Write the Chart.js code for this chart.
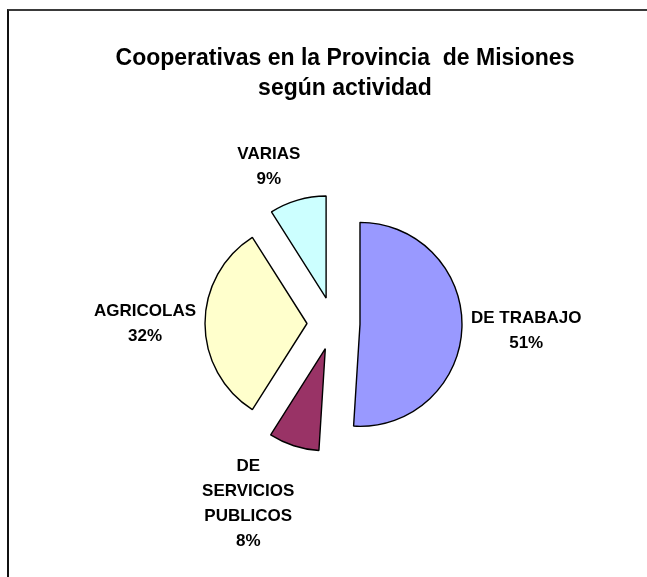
<!DOCTYPE html>
<html lang="es">
<head>
<meta charset="utf-8">
<title>Cooperativas en la Provincia de Misiones</title>
<script src="https://cdn.jsdelivr.net/npm/chart.js@4.4.1/dist/chart.umd.min.js"></script>
<style>
    html, body { margin: 0; padding: 0; background: #fff; overflow: hidden; }
    #marco {
        position: absolute; left: 7px; top: 9px; width: 640px; height: 568px;
        border-top: 2px solid #3a3a3a; border-left: 2px solid #111;
    }
    #grafico { position: absolute; left: 0; top: 0; }
</style>
</head>
<body>
<div id="marco"></div>
<canvas id="grafico" width="647" height="577"></canvas>
<script>
// datos del gráfico
const titulo = ["Cooperativas en la Provincia  de Misiones", "según actividad"];
const categorias = [["DE TRABAJO"], ["DE", "SERVICIOS", "PUBLICOS"], ["AGRICOLAS"], ["VARIAS"]];
const valores = [51, 8, 32, 9];
const colores = ["#9999FF", "#993366", "#FFFFCC", "#CCFFFF"];

const RADIO = 102;          // radio visible de cada porción
const SEPARACION = 26.5;    // desplazamiento de las porciones (explosión)
const FUENTE = '"Liberation Sans", Arial, sans-serif';

// Chart.js agranda el radio y achica el ángulo de las porciones desplazadas;
// lo corregimos para que todas queden con el mismo radio y su ángulo real
const radioUniforme = {
    id: 'radioUniforme',
    afterDatasetsUpdate(chart) {
        const meta = chart.getDatasetMeta(0);
        meta.data.forEach(arc => {
            const fix = 1 - Math.sin(Math.min(Math.PI, arc.circumference));
            const extra = SEPARACION * fix;
            arc.outerRadius = RADIO - extra;
            const w = extra / (Math.PI * RADIO);
            arc.startAngle -= w / 2;
            arc.endAngle += w / 2;
        });
    }
};

// etiquetas de categoría y porcentaje fuera de cada porción
const etiquetas = {
    id: 'etiquetas',
    afterDatasetsDraw(chart) {
        const ctx = chart.ctx;
        const meta = chart.getDatasetMeta(0);
        const total = valores.reduce((a, b) => a + b, 0);
        const alto = 25;
        ctx.save();
        ctx.font = 'bold 17px ' + FUENTE;
        ctx.fillStyle = '#000';
        ctx.textAlign = 'center';
        ctx.textBaseline = 'middle';
        meta.data.forEach((arc, i) => {
            const medio = (arc.startAngle + arc.endAngle) / 2;
            const dx = Math.cos(medio), dy = Math.sin(medio);
            const dist = RADIO + SEPARACION + 9;
            const lineas = categorias[i].concat([Math.round(valores[i] / total * 100) + '%']);
            const ancho = Math.max(...lineas.map(t => ctx.measureText(t).width));
            const mitadX = ancho / 2, mitadY = lineas.length * alto / 2;
            const sx = Math.max(-1, Math.min(1, dx * 3));
            const sy = Math.max(-1, Math.min(1, dy * 3.5));
            const cx = arc.x + dx * dist + sx * mitadX;
            const cy = arc.y + dy * dist + sy * mitadY;
            lineas.forEach((t, k) => {
                ctx.fillText(t, cx, cy - mitadY + alto / 2 + k * alto);
            });
        });
        ctx.restore();
    }
};

// título en dos líneas
const tituloPlugin = {
    id: 'tituloPlugin',
    afterDraw(chart) {
        const ctx = chart.ctx;
        ctx.save();
        ctx.font = 'bold 23px ' + FUENTE;
        ctx.fillStyle = '#000';
        ctx.textAlign = 'center';
        ctx.textBaseline = 'alphabetic';
        titulo.forEach((t, i) => ctx.fillText(t, 345, 65 + i * 30));
        ctx.restore();
    }
};

new Chart(document.getElementById('grafico'), {
    type: 'pie',
    data: {
        labels: categorias.map(l => l.join(' ')),
        datasets: [{
            data: valores,
            backgroundColor: colores,
            borderColor: '#000',
            borderWidth: 1.4,
            offset: SEPARACION * 4,
            clip: false,
        }],
    },
    options: {
        responsive: false,
        animation: false,
        events: [],
        radius: RADIO,
        layout: { padding: { left: 20, right: 0, top: 70, bottom: 0 } },
        plugins: {
            legend: { display: false },
            tooltip: { enabled: false },
            title: { display: false },
        },
    },
    plugins: [radioUniforme, etiquetas, tituloPlugin],
});
</script>
</body>
</html>
